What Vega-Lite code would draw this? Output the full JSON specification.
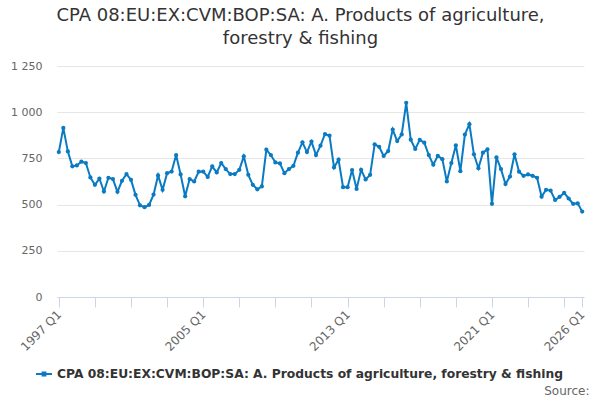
{
  "$schema": "https://vega.github.io/schema/vega-lite/v6.json",
  "width": 527,
  "height": 231,
  "autosize": {"type": "none"},
  "padding": {"left": 57, "top": 66, "right": 16, "bottom": 103},
  "background": "#ffffff",
  "title": {
    "text": ["CPA 08:EU:EX:CVM:BOP:SA: A. Products of agriculture,", "forestry & fishing"],
    "font": "DejaVu Sans",
    "fontSize": 18,
    "fontWeight": "normal",
    "color": "#333333",
    "lineHeight": 23,
    "anchor": "middle",
    "dx": -20,
    "offset": 12
  },
  "config": {
    "view": {"stroke": null},
    "font": "DejaVu Sans"
  },
  "data": {
    "values": [
      {"quarter": "1997 Q1", "value": 784}, {"quarter": "1997 Q2", "value": 915}, {"quarter": "1997 Q3", "value": 788}, {"quarter": "1997 Q4", "value": 707},
      {"quarter": "1998 Q1", "value": 712}, {"quarter": "1998 Q2", "value": 732}, {"quarter": "1998 Q3", "value": 725}, {"quarter": "1998 Q4", "value": 647},
      {"quarter": "1999 Q1", "value": 607}, {"quarter": "1999 Q2", "value": 641}, {"quarter": "1999 Q3", "value": 571}, {"quarter": "1999 Q4", "value": 645},
      {"quarter": "2000 Q1", "value": 638}, {"quarter": "2000 Q2", "value": 569}, {"quarter": "2000 Q3", "value": 629}, {"quarter": "2000 Q4", "value": 665},
      {"quarter": "2001 Q1", "value": 634}, {"quarter": "2001 Q2", "value": 553}, {"quarter": "2001 Q3", "value": 496}, {"quarter": "2001 Q4", "value": 486},
      {"quarter": "2002 Q1", "value": 498}, {"quarter": "2002 Q2", "value": 554}, {"quarter": "2002 Q3", "value": 658}, {"quarter": "2002 Q4", "value": 580},
      {"quarter": "2003 Q1", "value": 670}, {"quarter": "2003 Q2", "value": 679}, {"quarter": "2003 Q3", "value": 768}, {"quarter": "2003 Q4", "value": 663},
      {"quarter": "2004 Q1", "value": 545}, {"quarter": "2004 Q2", "value": 638}, {"quarter": "2004 Q3", "value": 625}, {"quarter": "2004 Q4", "value": 678},
      {"quarter": "2005 Q1", "value": 679}, {"quarter": "2005 Q2", "value": 650}, {"quarter": "2005 Q3", "value": 707}, {"quarter": "2005 Q4", "value": 674},
      {"quarter": "2006 Q1", "value": 725}, {"quarter": "2006 Q2", "value": 692}, {"quarter": "2006 Q3", "value": 665}, {"quarter": "2006 Q4", "value": 665},
      {"quarter": "2007 Q1", "value": 688}, {"quarter": "2007 Q2", "value": 761}, {"quarter": "2007 Q3", "value": 661}, {"quarter": "2007 Q4", "value": 607},
      {"quarter": "2008 Q1", "value": 583}, {"quarter": "2008 Q2", "value": 598}, {"quarter": "2008 Q3", "value": 797}, {"quarter": "2008 Q4", "value": 768},
      {"quarter": "2009 Q1", "value": 728}, {"quarter": "2009 Q2", "value": 723}, {"quarter": "2009 Q3", "value": 670}, {"quarter": "2009 Q4", "value": 692},
      {"quarter": "2010 Q1", "value": 710}, {"quarter": "2010 Q2", "value": 781}, {"quarter": "2010 Q3", "value": 837}, {"quarter": "2010 Q4", "value": 784},
      {"quarter": "2011 Q1", "value": 841}, {"quarter": "2011 Q2", "value": 768}, {"quarter": "2011 Q3", "value": 819}, {"quarter": "2011 Q4", "value": 882},
      {"quarter": "2012 Q1", "value": 873}, {"quarter": "2012 Q2", "value": 701}, {"quarter": "2012 Q3", "value": 743}, {"quarter": "2012 Q4", "value": 594},
      {"quarter": "2013 Q1", "value": 594}, {"quarter": "2013 Q2", "value": 687}, {"quarter": "2013 Q3", "value": 585}, {"quarter": "2013 Q4", "value": 688},
      {"quarter": "2014 Q1", "value": 636}, {"quarter": "2014 Q2", "value": 661}, {"quarter": "2014 Q3", "value": 826}, {"quarter": "2014 Q4", "value": 813},
      {"quarter": "2015 Q1", "value": 763}, {"quarter": "2015 Q2", "value": 790}, {"quarter": "2015 Q3", "value": 906}, {"quarter": "2015 Q4", "value": 844},
      {"quarter": "2016 Q1", "value": 880}, {"quarter": "2016 Q2", "value": 1051}, {"quarter": "2016 Q3", "value": 851}, {"quarter": "2016 Q4", "value": 801},
      {"quarter": "2017 Q1", "value": 850}, {"quarter": "2017 Q2", "value": 835}, {"quarter": "2017 Q3", "value": 768}, {"quarter": "2017 Q4", "value": 716},
      {"quarter": "2018 Q1", "value": 764}, {"quarter": "2018 Q2", "value": 746}, {"quarter": "2018 Q3", "value": 625}, {"quarter": "2018 Q4", "value": 725},
      {"quarter": "2019 Q1", "value": 821}, {"quarter": "2019 Q2", "value": 681}, {"quarter": "2019 Q3", "value": 879}, {"quarter": "2019 Q4", "value": 935},
      {"quarter": "2020 Q1", "value": 772}, {"quarter": "2020 Q2", "value": 697}, {"quarter": "2020 Q3", "value": 781}, {"quarter": "2020 Q4", "value": 799},
      {"quarter": "2021 Q1", "value": 504}, {"quarter": "2021 Q2", "value": 755}, {"quarter": "2021 Q3", "value": 692}, {"quarter": "2021 Q4", "value": 611},
      {"quarter": "2022 Q1", "value": 652}, {"quarter": "2022 Q2", "value": 772}, {"quarter": "2022 Q3", "value": 678}, {"quarter": "2022 Q4", "value": 656},
      {"quarter": "2023 Q1", "value": 663}, {"quarter": "2023 Q2", "value": 656}, {"quarter": "2023 Q3", "value": 645}, {"quarter": "2023 Q4", "value": 543},
      {"quarter": "2024 Q1", "value": 580}, {"quarter": "2024 Q2", "value": 576}, {"quarter": "2024 Q3", "value": 525}, {"quarter": "2024 Q4", "value": 542},
      {"quarter": "2025 Q1", "value": 563}, {"quarter": "2025 Q2", "value": 533}, {"quarter": "2025 Q3", "value": 504}, {"quarter": "2025 Q4", "value": 507},
      {"quarter": "2026 Q1", "value": 462}
    ]
  },
  "mark": {"type": "line", "strokeWidth": 2, "point": {"filled": true, "size": 18}},
  "encoding": {
    "x": {
      "field": "quarter",
      "type": "ordinal",
      "sort": null,
      "scale": {"type": "point", "padding": 0.4},
      "axis": {
        "values": ["1997 Q1", "1999 Q1", "2001 Q1", "2003 Q1", "2005 Q1", "2007 Q1", "2009 Q1", "2011 Q1", "2013 Q1", "2015 Q1", "2017 Q1", "2019 Q1", "2021 Q1", "2023 Q1", "2025 Q1", "2026 Q1"],
        "labelExpr": "indexof(['1997 Q1', '2005 Q1', '2013 Q1', '2021 Q1', '2026 Q1'], datum.value) >= 0 ? datum.value : ''",
        "labelOverlap": false,
        "labelAngle": -45,
        "labelAlign": "right",
        "labelBaseline": "middle",
        "labelPadding": 5,
        "labelFontSize": 12,
        "labelColor": "#666666",
        "domainColor": "#ccd6eb",
        "tickColor": "#ccd6eb",
        "tickSize": 10,
        "grid": false,
        "title": "Source:",
        "titleFontSize": 12,
        "titleFontWeight": "normal",
        "titleColor": "#666666",
        "titleAnchor": "end",
        "titleAlign": "right",
        "titleBaseline": "alphabetic",
        "titleX": 532,
        "titleY": 97
      }
    },
    "y": {
      "field": "value",
      "type": "quantitative",
      "scale": {"domain": [0, 1250], "nice": false},
      "axis": {
        "values": [0, 250, 500, 750, 1000, 1250],
        "labelExpr": "replace(format(datum.value, ','), ',', ' ')",
        "labelFontSize": 11,
        "labelColor": "#666666",
        "labelPadding": 15,
        "domain": false,
        "ticks": false,
        "gridColor": "#e6e6e6",
        "title": null
      }
    },
    "color": {
      "datum": "CPA 08:EU:EX:CVM:BOP:SA: A. Products of agriculture, forestry & fishing",
      "type": "nominal",
      "scale": {"range": ["#0a7bc2"]},
      "legend": {
        "title": null,
        "orient": "none",
        "legendX": -21,
        "legendY": 300,
        "padding": 0,
        "labelFontSize": 12.3,
        "labelFontWeight": "bold",
        "labelColor": "#333333",
        "labelLimit": 600,
        "labelOffset": 5,
        "symbolType": "M-1,-0.13H1V0.13H-1Z M-0.3,-0.3H0.3V0.3H-0.3Z",
        "symbolSize": 256,
        "symbolFillColor": "#0a7bc2",
        "symbolStrokeWidth": 0
      }
    }
  }
}
